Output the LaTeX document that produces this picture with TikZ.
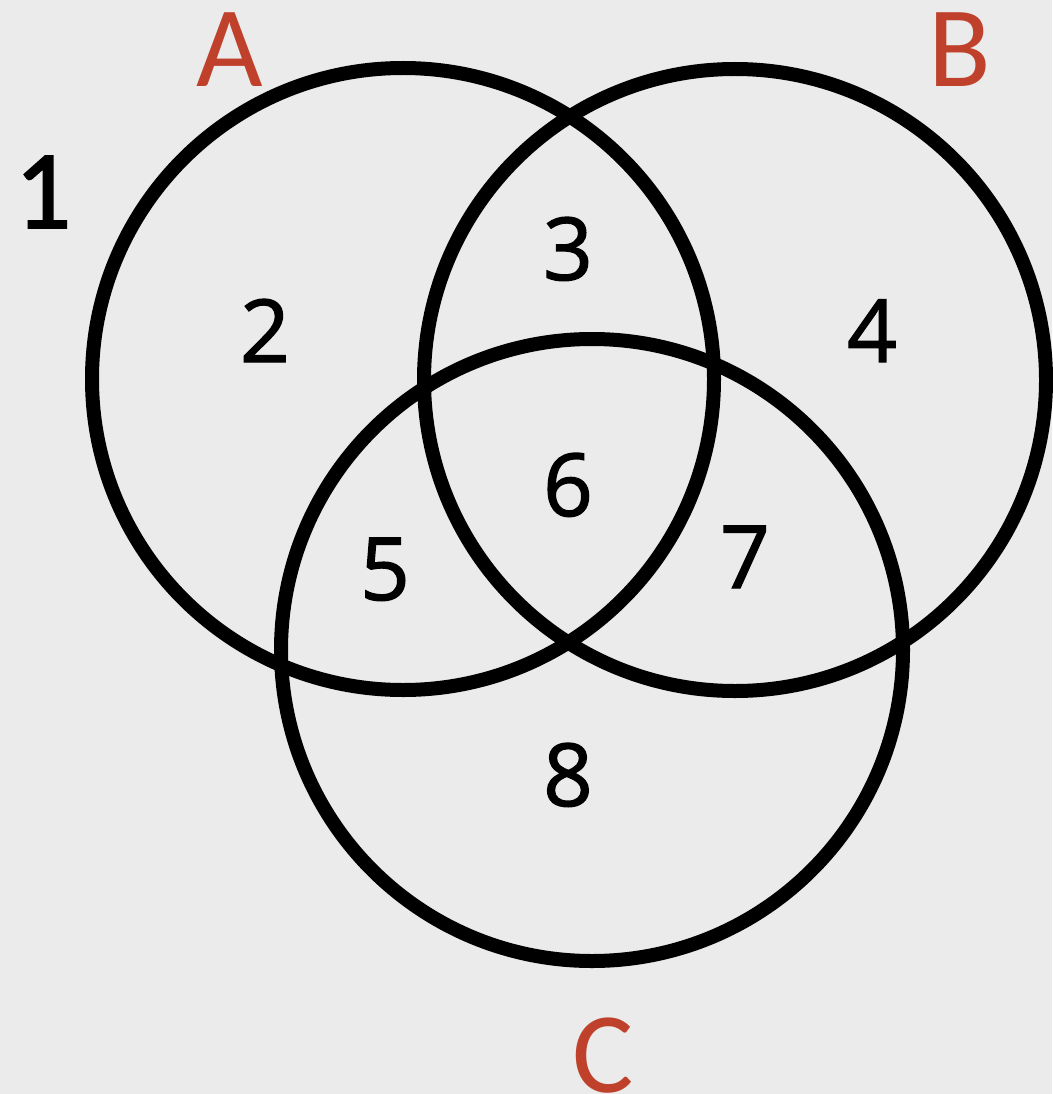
\documentclass[tikz,border=0pt]{standalone}
\usepackage{fontspec}
\setmainfont{Carlito}
\newfontfamily\digitfont[FakeBold=1.5]{Open Sans}
\newfontfamily\onefont[FakeBold=1.5]{Carlito}
\definecolor{bg}{HTML}{EBEBEB}
\definecolor{lbl}{HTML}{C0412B}
\begin{document}
\begin{tikzpicture}[x=1pt,y=-1pt,
  ring/.style={draw=black,line width=14pt},
  setname/.style={text=lbl,font=\fontsize{115}{115}\selectfont,inner sep=0pt,anchor=base},
  region/.style={text=black,font=\digitfont\fontsize{87}{87}\selectfont,inner sep=0pt,anchor=base}]
\fill[bg] (0,0) rectangle (1052,1094);
\useasboundingbox (0,0) rectangle (1052,1094);
\coordinate (ca) at (403,379);
\coordinate (cb) at (735,380);
\coordinate (cc) at (592,650);
\draw[ring] (ca) circle[radius=311];
\draw[ring] (cb) circle[radius=311];
\draw[ring] (cc) circle[radius=311];
\node[setname] (A) at (230,87) {A};
\node[setname] (B) at (960,87) {B};
\node[setname] (C) at (603,1092) {C};
\node[region,font=\onefont\fontsize{112}{112}\selectfont] (r1) at (43,228) {1};
\node[region] (r2) at (265,362) {2};
\node[region] (r3) at (568,280) {3};
\node[region] (r4) at (872,362) {4};
\node[region] (r5) at (385,600) {5};
\node[region] (r6) at (568,516) {6};
\node[region] (r7) at (745,588) {7};
\node[region] (r8) at (568,806) {8};
\end{tikzpicture}
\end{document}
